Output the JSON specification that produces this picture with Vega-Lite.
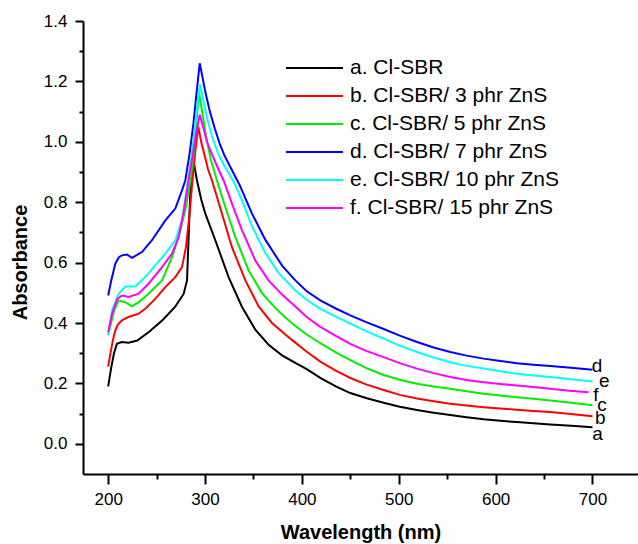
{
  "$schema": "https://vega.github.io/schema/vega-lite/v6.json",
  "width": 555,
  "height": 453,
  "autosize": {"type": "none"},
  "padding": {"left": 83, "top": 21, "right": 0, "bottom": 70},
  "background": "white",
  "config": {
    "view": {"stroke": null},
    "font": "Liberation Sans",
    "axis": {"domainColor": "black", "tickColor": "black", "labelColor": "black", "titleColor": "black", "grid": false, "domainWidth": 2, "tickWidth": 2, "labelFont": "Liberation Sans", "titleFont": "Liberation Sans"}
  },
  "datasets": {
    "curves": [
      {"s":"a","x":200,"y":0.19},{"s":"a","x":203,"y":0.25},{"s":"a","x":206,"y":0.30},{"s":"a","x":209,"y":0.331},{"s":"a","x":214,"y":0.337},{"s":"a","x":221,"y":0.335},{"s":"a","x":230,"y":0.342},{"s":"a","x":242,"y":0.37},{"s":"a","x":256,"y":0.409},{"s":"a","x":269,"y":0.453},{"s":"a","x":278,"y":0.497},{"s":"a","x":281.4,"y":0.541},{"s":"a","x":283,"y":0.68},{"s":"a","x":285,"y":0.85},{"s":"a","x":287,"y":0.91},{"s":"a","x":289,"y":0.92},{"s":"a","x":291.7,"y":0.872},{"s":"a","x":296,"y":0.81},{"s":"a","x":300.3,"y":0.762},{"s":"a","x":310.6,"y":0.674},{"s":"a","x":324.3,"y":0.552},{"s":"a","x":338.2,"y":0.453},{"s":"a","x":351.9,"y":0.378},{"s":"a","x":365.6,"y":0.328},{"s":"a","x":379.5,"y":0.293},{"s":"a","x":393.2,"y":0.268},{"s":"a","x":405,"y":0.247},{"s":"a","x":419,"y":0.218},{"s":"a","x":435,"y":0.19},{"s":"a","x":450,"y":0.168},{"s":"a","x":467,"y":0.151},{"s":"a","x":484.4,"y":0.136},{"s":"a","x":501,"y":0.123},{"s":"a","x":518.8,"y":0.112},{"s":"a","x":536,"y":0.103},{"s":"a","x":553.2,"y":0.095},{"s":"a","x":570,"y":0.088},{"s":"a","x":587.6,"y":0.081},{"s":"a","x":605,"y":0.076},{"s":"a","x":622,"y":0.072},{"s":"a","x":639,"y":0.068},{"s":"a","x":656.4,"y":0.064},{"s":"a","x":678,"y":0.06},{"s":"a","x":700,"y":0.055},

      {"s":"b","x":200,"y":0.256},{"s":"b","x":202.2,"y":0.298},{"s":"b","x":205,"y":0.345},{"s":"b","x":207.3,"y":0.375},{"s":"b","x":210,"y":0.395},{"s":"b","x":214.3,"y":0.409},{"s":"b","x":221,"y":0.42},{"s":"b","x":231.4,"y":0.431},{"s":"b","x":238.3,"y":0.447},{"s":"b","x":248.6,"y":0.48},{"s":"b","x":259,"y":0.519},{"s":"b","x":269.3,"y":0.552},{"s":"b","x":276.2,"y":0.585},{"s":"b","x":280.3,"y":0.651},{"s":"b","x":284,"y":0.76},{"s":"b","x":287,"y":0.872},{"s":"b","x":290,"y":0.97},{"s":"b","x":293,"y":1.05},{"s":"b","x":296,"y":1.0},{"s":"b","x":300,"y":0.95},{"s":"b","x":303,"y":0.91},{"s":"b","x":307.2,"y":0.872},{"s":"b","x":317.5,"y":0.762},{"s":"b","x":327.8,"y":0.651},{"s":"b","x":341.6,"y":0.541},{"s":"b","x":355.3,"y":0.455},{"s":"b","x":369.1,"y":0.400},{"s":"b","x":382.9,"y":0.362},{"s":"b","x":393.2,"y":0.335},{"s":"b","x":405,"y":0.305},{"s":"b","x":419,"y":0.272},{"s":"b","x":435,"y":0.242},{"s":"b","x":450,"y":0.218},{"s":"b","x":467,"y":0.196},{"s":"b","x":484.4,"y":0.178},{"s":"b","x":501,"y":0.162},{"s":"b","x":518.8,"y":0.150},{"s":"b","x":536,"y":0.141},{"s":"b","x":553.2,"y":0.133},{"s":"b","x":570,"y":0.127},{"s":"b","x":587.6,"y":0.121},{"s":"b","x":605,"y":0.117},{"s":"b","x":622,"y":0.113},{"s":"b","x":639,"y":0.109},{"s":"b","x":656.4,"y":0.105},{"s":"b","x":678,"y":0.099},{"s":"b","x":700,"y":0.091},

      {"s":"c","x":200,"y":0.36},{"s":"c","x":203,"y":0.40},{"s":"c","x":206,"y":0.44},{"s":"c","x":210.8,"y":0.475},{"s":"c","x":217.7,"y":0.469},{"s":"c","x":224.6,"y":0.455},{"s":"c","x":231.4,"y":0.469},{"s":"c","x":241.7,"y":0.497},{"s":"c","x":255.6,"y":0.541},{"s":"c","x":265.9,"y":0.618},{"s":"c","x":269.3,"y":0.651},{"s":"c","x":274.5,"y":0.707},{"s":"c","x":280,"y":0.78},{"s":"c","x":285,"y":0.872},{"s":"c","x":289,"y":0.98},{"s":"c","x":292,"y":1.10},{"s":"c","x":294,"y":1.16},{"s":"c","x":297,"y":1.10},{"s":"c","x":301,"y":1.02},{"s":"c","x":306,"y":0.94},{"s":"c","x":312.3,"y":0.872},{"s":"c","x":320.9,"y":0.784},{"s":"c","x":331.2,"y":0.685},{"s":"c","x":345,"y":0.574},{"s":"c","x":358.8,"y":0.499},{"s":"c","x":372.5,"y":0.450},{"s":"c","x":382.9,"y":0.418},{"s":"c","x":393.2,"y":0.390},{"s":"c","x":405,"y":0.362},{"s":"c","x":419,"y":0.333},{"s":"c","x":435,"y":0.303},{"s":"c","x":450,"y":0.277},{"s":"c","x":467,"y":0.25},{"s":"c","x":484.4,"y":0.228},{"s":"c","x":501,"y":0.212},{"s":"c","x":518.8,"y":0.199},{"s":"c","x":536,"y":0.19},{"s":"c","x":553.2,"y":0.182},{"s":"c","x":570,"y":0.174},{"s":"c","x":587.6,"y":0.166},{"s":"c","x":605,"y":0.160},{"s":"c","x":622,"y":0.154},{"s":"c","x":639,"y":0.149},{"s":"c","x":656.4,"y":0.143},{"s":"c","x":678,"y":0.136},{"s":"c","x":700,"y":0.128},

      {"s":"d","x":200,"y":0.491},{"s":"d","x":203.2,"y":0.541},{"s":"d","x":207.3,"y":0.596},{"s":"d","x":211,"y":0.618},{"s":"d","x":214.3,"y":0.624},{"s":"d","x":219.4,"y":0.627},{"s":"d","x":224.6,"y":0.616},{"s":"d","x":234.9,"y":0.635},{"s":"d","x":245.2,"y":0.674},{"s":"d","x":259,"y":0.74},{"s":"d","x":269.3,"y":0.779},{"s":"d","x":276.2,"y":0.839},{"s":"d","x":279.6,"y":0.872},{"s":"d","x":284,"y":0.96},{"s":"d","x":288,"y":1.06},{"s":"d","x":291.5,"y":1.17},{"s":"d","x":294.5,"y":1.26},{"s":"d","x":297,"y":1.22},{"s":"d","x":300,"y":1.17},{"s":"d","x":305,"y":1.10},{"s":"d","x":310,"y":1.045},{"s":"d","x":315,"y":0.995},{"s":"d","x":320,"y":0.955},{"s":"d","x":328,"y":0.905},{"s":"d","x":336,"y":0.855},{"s":"d","x":348.5,"y":0.762},{"s":"d","x":362.2,"y":0.676},{"s":"d","x":379.5,"y":0.59},{"s":"d","x":393.2,"y":0.541},{"s":"d","x":405,"y":0.505},{"s":"d","x":419,"y":0.475},{"s":"d","x":435,"y":0.448},{"s":"d","x":450,"y":0.425},{"s":"d","x":467,"y":0.402},{"s":"d","x":484.4,"y":0.380},{"s":"d","x":501,"y":0.358},{"s":"d","x":518.8,"y":0.337},{"s":"d","x":536,"y":0.319},{"s":"d","x":553.2,"y":0.304},{"s":"d","x":570,"y":0.292},{"s":"d","x":587.6,"y":0.282},{"s":"d","x":605,"y":0.274},{"s":"d","x":622,"y":0.267},{"s":"d","x":639,"y":0.262},{"s":"d","x":656.4,"y":0.258},{"s":"d","x":678,"y":0.252},{"s":"d","x":700,"y":0.245},

      {"s":"e","x":200,"y":0.359},{"s":"e","x":204.1,"y":0.442},{"s":"e","x":210.8,"y":0.497},{"s":"e","x":217.7,"y":0.521},{"s":"e","x":228,"y":0.521},{"s":"e","x":238.3,"y":0.552},{"s":"e","x":248.6,"y":0.591},{"s":"e","x":259,"y":0.63},{"s":"e","x":269.3,"y":0.674},{"s":"e","x":276.2,"y":0.74},{"s":"e","x":279.5,"y":0.81},{"s":"e","x":282.4,"y":0.872},{"s":"e","x":286,"y":0.95},{"s":"e","x":290,"y":1.06},{"s":"e","x":293,"y":1.15},{"s":"e","x":295,"y":1.19},{"s":"e","x":298,"y":1.14},{"s":"e","x":302,"y":1.08},{"s":"e","x":307,"y":1.02},{"s":"e","x":313,"y":0.965},{"s":"e","x":320,"y":0.92},{"s":"e","x":329.5,"y":0.868},{"s":"e","x":338.2,"y":0.806},{"s":"e","x":348.5,"y":0.72},{"s":"e","x":362.2,"y":0.632},{"s":"e","x":375.9,"y":0.566},{"s":"e","x":393.2,"y":0.508},{"s":"e","x":405,"y":0.477},{"s":"e","x":419,"y":0.447},{"s":"e","x":435,"y":0.421},{"s":"e","x":450,"y":0.398},{"s":"e","x":467,"y":0.372},{"s":"e","x":484.4,"y":0.348},{"s":"e","x":501,"y":0.325},{"s":"e","x":518.8,"y":0.304},{"s":"e","x":536,"y":0.286},{"s":"e","x":553.2,"y":0.270},{"s":"e","x":570,"y":0.258},{"s":"e","x":587.6,"y":0.249},{"s":"e","x":605,"y":0.240},{"s":"e","x":622,"y":0.232},{"s":"e","x":639,"y":0.226},{"s":"e","x":656.4,"y":0.221},{"s":"e","x":678,"y":0.214},{"s":"e","x":700,"y":0.206},

      {"s":"f","x":200,"y":0.37},{"s":"f","x":204.1,"y":0.431},{"s":"f","x":209.3,"y":0.48},{"s":"f","x":214.3,"y":0.491},{"s":"f","x":221,"y":0.486},{"s":"f","x":231.4,"y":0.497},{"s":"f","x":241.7,"y":0.53},{"s":"f","x":255.6,"y":0.585},{"s":"f","x":265.9,"y":0.63},{"s":"f","x":272.8,"y":0.685},{"s":"f","x":278,"y":0.77},{"s":"f","x":283,"y":0.872},{"s":"f","x":287,"y":0.95},{"s":"f","x":291,"y":1.03},{"s":"f","x":294.5,"y":1.09},{"s":"f","x":298,"y":1.05},{"s":"f","x":302,"y":1.0},{"s":"f","x":307,"y":0.96},{"s":"f","x":313,"y":0.915},{"s":"f","x":319.2,"y":0.872},{"s":"f","x":327.8,"y":0.795},{"s":"f","x":338.2,"y":0.707},{"s":"f","x":351.9,"y":0.607},{"s":"f","x":365.6,"y":0.541},{"s":"f","x":379.5,"y":0.494},{"s":"f","x":393.2,"y":0.455},{"s":"f","x":405,"y":0.42},{"s":"f","x":419,"y":0.387},{"s":"f","x":435,"y":0.357},{"s":"f","x":450,"y":0.331},{"s":"f","x":467,"y":0.307},{"s":"f","x":484.4,"y":0.287},{"s":"f","x":501,"y":0.267},{"s":"f","x":518.8,"y":0.249},{"s":"f","x":536,"y":0.234},{"s":"f","x":553.2,"y":0.221},{"s":"f","x":570,"y":0.211},{"s":"f","x":587.6,"y":0.204},{"s":"f","x":605,"y":0.198},{"s":"f","x":622,"y":0.193},{"s":"f","x":639,"y":0.188},{"s":"f","x":656.4,"y":0.182},{"s":"f","x":676,"y":0.176},{"s":"f","x":696,"y":0.171}
    ],
    "endLabels": [
      {"t":"a","x":705.3,"y":0.033},
      {"t":"b","x":708,"y":0.084},
      {"t":"c","x":709.8,"y":0.130},
      {"t":"d","x":704.7,"y":0.259},
      {"t":"e","x":712.2,"y":0.207},
      {"t":"f","x":703.6,"y":0.163}
    ]
  },
  "layer": [
    {
      "data": {"name": "curves"},
      "mark": {"type": "line", "strokeWidth": 2, "interpolate": "linear"},
      "encoding": {
        "x": {
          "field": "x", "type": "quantitative",
          "scale": {"domain": [174, 747], "nice": false, "zero": false},
          "axis": {"orient": "bottom", "values": [200, 300, 400, 500, 600, 700], "format": "d", "tickSize": 10, "labelFontSize": 17, "labelPadding": 7, "title": "Wavelength (nm)", "titleFontSize": 20, "titleFontWeight": "bold", "titleBaseline": "alphabetic", "titleY": 64}
        },
        "y": {
          "field": "y", "type": "quantitative",
          "scale": {"domain": [-0.1, 1.4], "nice": false, "zero": false},
          "axis": {"orient": "left", "values": [0, 0.2, 0.4, 0.6, 0.8, 1.0, 1.2, 1.4], "format": ".1f", "tickSize": 8, "labelFontSize": 17, "labelPadding": 8, "title": "Absorbance", "titleFontSize": 20, "titleFontWeight": "bold", "titleAngle": -90, "titleBaseline": "alphabetic", "titleX": -57, "titleY": 241}
        },
        "color": {
          "field": "s", "type": "nominal",
          "scale": {"domain": ["a", "b", "c", "d", "e", "f"], "range": ["#000000", "#ff0000", "#00ee00", "#0000ff", "#00ffff", "#ff00ff"]},
          "legend": {
            "orient": "none", "legendX": 203, "legendY": 36.5, "title": null, "padding": 0,
            "symbolType": "M-3,0H3", "symbolSize": 361, "symbolStrokeWidth": 2, "symbolOffset": 18, "symbolFillColor": "transparent",
            "labelFontSize": 21, "labelFont": "Liberation Sans", "labelColor": "black", "labelOffset": 25, "labelLimit": 0, "rowPadding": 6,
            "labelExpr": "{'a':'a. Cl-SBR','b':'b. Cl-SBR/ 3 phr ZnS','c':'c. Cl-SBR/ 5 phr ZnS','d':'d. Cl-SBR/ 7 phr ZnS','e':'e. Cl-SBR/ 10 phr ZnS','f':'f. Cl-SBR/ 15 phr ZnS'}[datum.label]"
          }
        }
      }
    },
    {
      "data": {"name": "endLabels"},
      "mark": {"type": "text", "fontSize": 19, "font": "Liberation Sans", "align": "center", "baseline": "middle", "color": "black"},
      "encoding": {
        "x": {"field": "x", "type": "quantitative", "axis": {"orient": "bottom", "values": [250, 350, 450, 550, 650], "labels": false, "domain": false, "tickSize": 5, "title": null}},
        "y": {"field": "y", "type": "quantitative", "axis": {"orient": "left", "values": [0.1, 0.3, 0.5, 0.7, 0.9, 1.1, 1.3], "labels": false, "domain": false, "tickSize": 4, "title": null}},
        "text": {"field": "t"}
      }
    }
  ],
  "resolve": {"axis": {"x": "independent", "y": "independent"}}
}
